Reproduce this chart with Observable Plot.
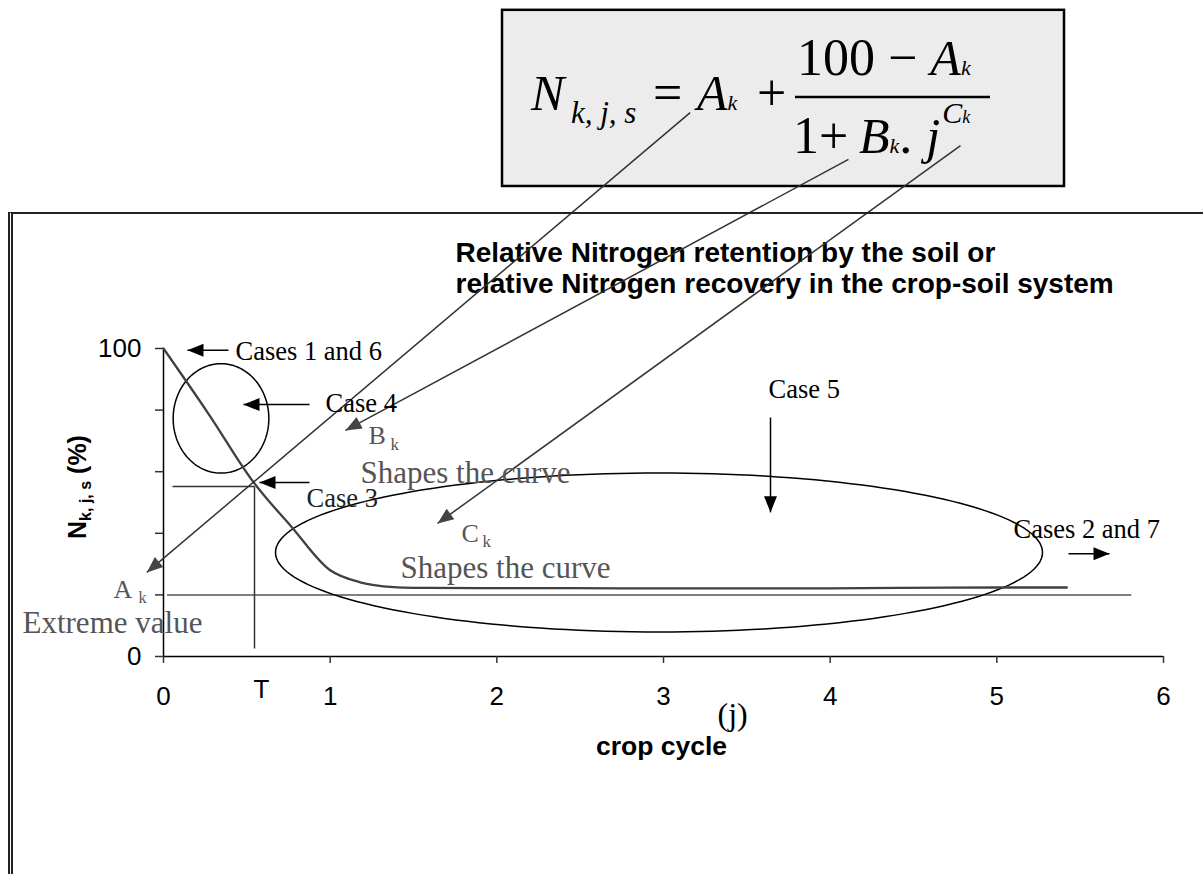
<!DOCTYPE html>
<html><head><meta charset="utf-8">
<script src="https://cdn.jsdelivr.net/npm/d3@7"></script>
<script src="https://cdn.jsdelivr.net/npm/@observablehq/plot@0.6"></script>
<style>
html,body{margin:0;padding:0;background:#fff;overflow:hidden;}
#wrap{position:relative;width:1203px;height:874px;overflow:hidden;}
#frame{position:absolute;left:8px;top:212px;width:1300px;height:800px;border-top:2px solid #222;border-left:5px double #222;pointer-events:none;}
</style></head><body><div id="wrap"><div id="chart"></div><div id="frame"></div></div>
<script>
// ---- data ----
const xTicks = [0, 1, 2, 3, 4, 5, 6];
const yTicks = [0, 20, 40, 60, 80, 100];
const yTickLabels = [0, 100];
const cycleJ     = [0, 0.27, 0.54, 0.77, 1.0, 1.18, 1.38, 1.6, 2.0, 2.44, 3.0, 3.5, 4.0, 4.42, 5.0, 5.42];
const retentionN = [100, 78.8, 56.6, 42.0, 28.0, 24.1, 22.5, 22.3, 22.2, 22.2, 22.1, 22.1, 22.1, 22.3, 22.4, 22.4];
const extremeA = 20;
const extremeSpan = [0.024, 5.81];
const thresholdT = {j: 0.546, n: 55.2, jStart: 0.054, nEnd: 2.6};
const ellipses = [
  {id: "case4", cx: 0.345, cy: 77.3, rx: 0.287, ry: 17.76},
  {id: "case5", cx: 2.973, cy: 33.77, rx: 2.301, ry: 25.81}
];
const formulaBox = {x1: 2.034, x2: 5.406, y1: 152.6, y2: 209.8};
const leaderLines = [
  {x1: 3.16, y1: 176.6, x2: -0.10, y2: 27.3},
  {x1: 4.110, y1: 161.4, x2: 1.092, y2: 73.4},
  {x1: 4.782, y1: 165.9, x2: 1.644, y2: 43.2}
];
const caseArrows = [
  {x1: 0.39, y1: 99.4, x2: 0.144, y2: 99.4},
  {x1: 0.876, y1: 81.8, x2: 0.48, y2: 81.8},
  {x1: 0.876, y1: 56.5, x2: 0.576, y2: 56.5},
  {x1: 3.642, y1: 77.6, x2: 3.642, y2: 46.8},
  {x1: 5.43, y1: 33.4, x2: 5.676, y2: 33.4}
];
const SERIF = "Liberation Serif, Times New Roman, serif";
const SANS = "Liberation Sans, Arial, sans-serif";
const labels = [
  {text: "Cases 1 and 6", x: 0.432, y: 98.86, size: 26.5, color: "#000", font: SERIF},
  {text: "Case 4", x: 0.972, y: 81.98, size: 26.5, color: "#000", font: SERIF},
  {text: "Case 3", x: 0.858, y: 51.14, size: 26.5, color: "#222", font: SERIF},
  {text: "Case 5", x: 3.630, y: 86.53, size: 26.5, color: "#000", font: SERIF},
  {text: "Cases 2 and 7", x: 5.100, y: 41.07, size: 26.5, color: "#000", font: SERIF},
  {text: "Shapes the curve", x: 1.182, y: 59.71, size: 31, color: "#555", font: SERIF},
  {text: "Shapes the curve", x: 1.422, y: 28.86, size: 31, color: "#555", font: SERIF},
  {text: "Extreme value", x: -0.846, y: 10.7, size: 31, color: "#555", font: SERIF},
  {text: "A", x: -0.300, y: 21.6, size: 26, color: "#555", font: SERIF},
  {text: "k", x: -0.150, y: 19.0, size: 16, color: "#555", font: SERIF},
  {text: "B", x: 1.230, y: 71.85, size: 26, color: "#555", font: SERIF},
  {text: "k", x: 1.362, y: 68.96, size: 17, color: "#555", font: SERIF},
  {text: "C", x: 1.788, y: 40.0, size: 26, color: "#555", font: SERIF},
  {text: "k", x: 1.914, y: 37.2, size: 17, color: "#555", font: SERIF},
  {text: "(j)", x: 3.324, y: -18.77, size: 32, color: "#000", font: SERIF}
];
const titleLines = [
  {text: "Relative Nitrogen retention by the soil or", x: 1.752, y: 131.0},
  {text: "relative Nitrogen recovery in the crop-soil system", x: 1.752, y: 120.9}
];
const xTitle = {text: "crop cycle", x: 2.988, y: -29.38};
const tLabel = {text: "T", x: 0.588, y: -10.62};

// ---- layout ----
const W = 1203, H = 874, mL = 163, mR = 40, mT = 348, mB = 218;
const sx = d3.scaleLinear([0, 6], [mL, W - mR]);
const sy = d3.scaleLinear([0, 100], [H - mB, mT]);

function headSymbol(a) {
  const dx = sx(a.x2) - sx(a.x1), dy = sy(a.y2) - sy(a.y1);
  const L = Math.hypot(dx, dy), ux = dx / L, uy = dy / L;
  const len = 16, hw = 6.5;
  return {draw(ctx) {
    ctx.moveTo(0, 0);
    ctx.lineTo(-len * ux - hw * uy, -len * uy + hw * ux);
    ctx.lineTo(-len * ux + hw * uy, -len * uy - hw * ux);
    ctx.closePath();
  }};
}

const curve = cycleJ.map((j, i) => ({j, n: retentionN[i]}));
const ellipsePts = ellipses.flatMap(e => d3.range(0, 362, 2).map(t => ({
  id: e.id, x: e.cx + e.rx * Math.cos(t * Math.PI / 180), y: e.cy + e.ry * Math.sin(t * Math.PI / 180)
})));

function formulaMark() {
  const g = document.createElementNS("http://www.w3.org/2000/svg", "g");
  g.innerHTML = `
  <g font-family="${SERIF}" fill="#000" text-anchor="start">
    <text x="531" y="110" font-size="50" font-style="italic">N</text>
    <text x="571" y="123" font-size="31" font-style="italic">k, j, s</text>
    <text x="653" y="110" font-size="52">=</text>
    <text x="697" y="110" font-size="50" font-style="italic">A<tspan font-size="22">k</tspan></text>
    <text x="757" y="110" font-size="52">+</text>
    <text x="797" y="75" font-size="52">100 \u2212 <tspan font-style="italic" font-size="50">A</tspan><tspan font-style="italic" font-size="22">k</tspan></text>
    <line x1="795" x2="990" y1="97" y2="97" stroke="#000" stroke-width="2.5"/>
    <text x="793" y="153" font-size="52">1+<tspan x="859" font-style="italic" font-size="50">B</tspan><tspan font-style="italic" font-size="22">k</tspan><tspan>.</tspan><tspan dx="14" font-style="italic" font-size="50">j</tspan><tspan dx="2" dy="-30" font-style="italic" font-size="30">C</tspan><tspan font-style="italic" font-size="18">k</tspan></text>
  </g>`;
  return g;
}
function yLabelMark() {
  const g = document.createElementNS("http://www.w3.org/2000/svg", "g");
  g.innerHTML = `<text transform="translate(86,487) rotate(-90)" text-anchor="middle" font-family="${SANS}" font-weight="bold" font-size="25" fill="#000">N<tspan font-size="16" dy="5">k, j, s</tspan><tspan dy="-5"> (%)</tspan></text>`;
  return g;
}

const marks = [
  Plot.rect([formulaBox], {x1: "x1", x2: "x2", y1: "y1", y2: "y2", fill: "#ececec", stroke: "#000", strokeWidth: 2.5}),
  formulaMark,
  // axes
  Plot.ruleX([0], {y1: 0, y2: 100, stroke: "#000", strokeWidth: 1.5}),
  Plot.ruleY([0], {x1: 0, x2: 6, stroke: "#000", strokeWidth: 1.5}),
  Plot.ruleY(yTicks, {x1: -0.048, x2: 0, stroke: "#333", strokeWidth: 1.5}),
  Plot.ruleX(xTicks, {y1: 0, y2: -2.27, stroke: "#333", strokeWidth: 1.5}),
  Plot.text(xTicks.map(t => ({t})), {x: "t", y: -12.99, text: d => String(d.t), fontFamily: SANS, fontSize: 26, fill: "#000"}),
  Plot.text(yTickLabels.map(t => ({t})), {x: 0, y: "t", dx: -22, textAnchor: "end", text: d => String(d.t), fontFamily: SANS, fontSize: 26, fill: "#000"}),
  Plot.text([xTitle], {x: "x", y: "y", text: "text", fontFamily: SANS, fontWeight: "bold", fontSize: 26.5, fill: "#000"}),
  Plot.text([tLabel], {x: "x", y: "y", text: "text", fontFamily: SANS, fontSize: 26, fill: "#000"}),
  yLabelMark,
  Plot.text(titleLines, {x: "x", y: "y", text: "text", textAnchor: "start", fontFamily: SANS, fontWeight: "bold", fontSize: 28, fill: "#000"}),
  // reference lines
  Plot.ruleY([extremeA], {x1: extremeSpan[0], x2: extremeSpan[1], stroke: "#555", strokeWidth: 1.5}),
  Plot.link([thresholdT], {x1: "jStart", x2: "j", y1: "n", y2: "n", stroke: "#333", strokeWidth: 1.5}),
  Plot.link([thresholdT], {x1: "j", x2: "j", y1: "n", y2: "nEnd", stroke: "#333", strokeWidth: 1.5}),
  // ellipses
  Plot.line(ellipsePts, {x: "x", y: "y", z: "id", stroke: "#000", strokeWidth: 1.5}),
  // curve
  Plot.line(curve, {x: "j", y: "n", stroke: "#404040", strokeWidth: 2.3, curve: "catmull-rom"}),
  // arrows
  Plot.link(leaderLines, {x1: "x1", y1: "y1", x2: "x2", y2: "y2", stroke: "#333", strokeWidth: 1.5}),
  Plot.link(caseArrows, {x1: "x1", y1: "y1", x2: "x2", y2: "y2", stroke: "#000", strokeWidth: 1.5}),
  ...leaderLines.map(a => Plot.dot([a], {x: "x2", y: "y2", r: 7, symbol: headSymbol(a), fill: "#444", stroke: "none"})),
  ...caseArrows.map(a => Plot.dot([a], {x: "x2", y: "y2", r: 7, symbol: headSymbol(a), fill: "#000", stroke: "none"})),
  // labels
  ...labels.map(d => Plot.text([d], {x: "x", y: "y", text: "text", textAnchor: "start", fontFamily: d.font, fontSize: d.size, fill: d.color}))
];

const chart = Plot.plot({
  width: W, height: H,
  marginLeft: mL, marginRight: mR, marginTop: mT, marginBottom: mB,
  x: {domain: [0, 6], axis: null},
  y: {domain: [0, 100], axis: null},
  style: {fontFamily: SANS, background: "transparent", overflow: "visible"},
  marks
});
document.getElementById("chart").appendChild(chart);
</script></body></html>
